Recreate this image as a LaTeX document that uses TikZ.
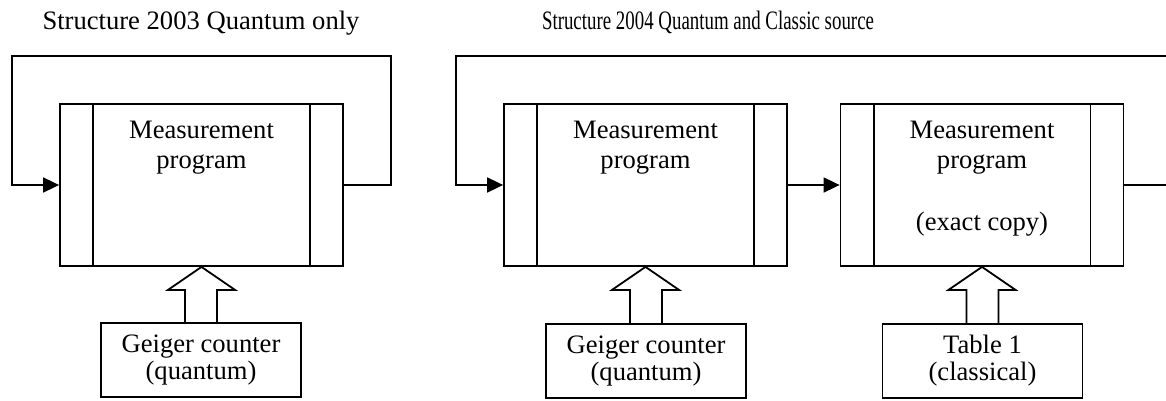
\documentclass[tikz,border=0pt]{standalone}
\usepackage{fontspec}
\setmainfont{Liberation Serif}
\usetikzlibrary{arrows.meta,calc}

\begin{document}
\begin{tikzpicture}[x=0.5pt,y=-0.5pt,line width=0.9pt,
  every node/.style={font=\fontsize{13.3}{15}\selectfont},
  prog/.style={draw,minimum width=141.5pt,minimum height=81pt,inner sep=0pt},
  progtext/.style={anchor=north,align=center,inner sep=0pt},
  source/.style={draw,minimum width=100pt,minimum height=37pt,inner sep=0pt,
    align=center,font=\fontsize{13.3}{13.5}\selectfont},
  tip/.style={-{Triangle[length=8pt,width=7.5pt]}}]
  \useasboundingbox (0,0) rectangle (1166,401);

  % titles
  \node[anchor=base] (title1) at (201,30) {Structure 2003 Quantum only};
  \node[anchor=base] (title2) at (708,30)
    {\scalebox{0.71}[1]{Structure 2004 Quantum and Classic source}};

  % program boxes
  \node[prog] (prog)  at (201.5,185) {};
  \node[prog] (progA) at (645.5,185) {};
  \node[prog] (progB) at (982,185) {};
  \foreach \b in {prog,progA,progB} {
    \draw ($(\b.north west)+(34,0)$) -- ($(\b.south west)+(34,0)$);
    \draw ($(\b.north east)+(-34,0)$) -- ($(\b.south east)+(-34,0)$);
  }

  \node[progtext] (progT)  at ($(prog.north)+(0,17)$)  {Measurement\\program};
  \node[progtext] (progAT) at ($(progA.north)+(0,17)$) {Measurement\\program};
  \node[progtext] (progBT) at ($(progB.north)+(0,17)$)
    {Measurement\\program\\[16pt](exact copy)};

  % sources
  \node[source] (geiger)  at (201,360)   {Geiger counter\\(quantum)};
  \node[source] (geigerA) at (646,361)   {Geiger counter\\(quantum)};
  \node[source] (table)   at (982.5,361) {Table 1\\(classical)};

  % block arrows
  \foreach \s/\d in {geiger/prog,geigerA/progA,table/progB}
    \draw ($(\s.north)+(-16,0)$) |- ($(\d.south)+(-33.5,23)$) -- (\d.south)
      -- ($(\d.south)+(33.5,23)$) -| ($(\s.north)+(16,0)$);

  % feedback loops
  \coordinate (loopR) at (391,56);
  \coordinate (loopL) at (12,185);
  \draw[tip] (prog.east) -| (loopR) -| (loopL) -- (prog.west);

  \coordinate (cutT) at (1166,56);
  \coordinate (cutR) at (1166,185);
  \coordinate (loopL2) at (456,185);
  \draw[tip] (cutT) -| (loopL2) -- (progA.west);
  \draw[tip] (progA.east) -- (progB.west);
  \draw (progB.east) -- (cutR);
\end{tikzpicture}
\end{document}
